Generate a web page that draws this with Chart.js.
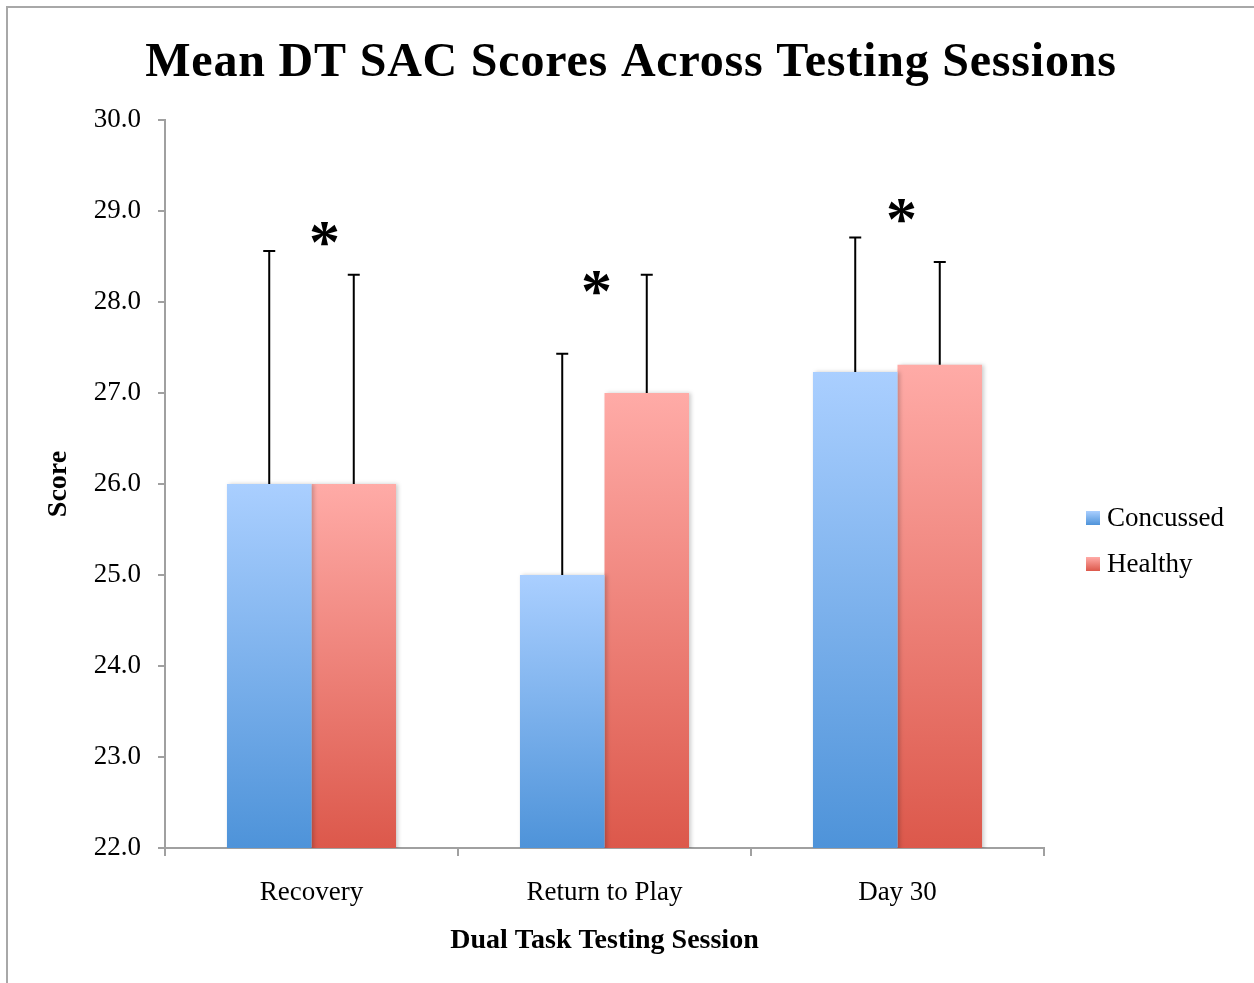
<!DOCTYPE html>
<html>
<head>
<meta charset="utf-8">
<script src="https://cdn.jsdelivr.net/npm/chart.js@4"></script>
<style>
    body { margin: 0; background: #fff; overflow: hidden; }
    #wrap { position: relative; width: 1254px; height: 983px; }
    #frame { position: absolute; left: 6px; top: 6px; width: 1300px; height: 1000px;
             border-left: 2px solid #a8a8a8; border-top: 2px solid #a8a8a8; }
    #myChart { position: absolute; left: 0; top: 0; }
</style>
</head>
<body>
<div id="wrap">
    <div id="frame"></div>
    <canvas id="myChart" width="1254" height="983"></canvas>
</div>
<script>
const chartTitle = 'Mean DT SAC Scores Across Testing Sessions';
const categories = ['Recovery', 'Return to Play', 'Day 30'];
const concussedMeans = [26.0, 25.0, 27.23];
const healthyMeans = [26.0, 27.0, 27.31];
const concussedErr = [2.56, 2.43, 1.48];
const healthyErr = [2.30, 1.30, 1.13];
const sigMarks = [28.75, 28.21, 29.0];
const yMin = 22, yMax = 30, yStep = 1;

const serif = '"Liberation Serif", "DejaVu Serif", serif';
const axisGrey = '#a0a0a0';

function barGradient(top, bottom) {
    return (context) => {
        const chart = context.chart;
        const yScale = chart.scales.y;
        if (!chart.chartArea || !yScale || context.parsed == null) return bottom;
        const yTop = yScale.getPixelForValue(context.parsed.y);
        const yBot = yScale.getPixelForValue(yMin);
        const g = chart.ctx.createLinearGradient(0, yTop, 0, yBot);
        g.addColorStop(0, top);
        g.addColorStop(1, bottom);
        return g;
    };
}

const barShadow = {
    id: 'barShadow',
    beforeDatasetDraw(chart) {
        const ctx = chart.ctx;
        ctx.save();
        ctx.shadowColor = 'rgba(0,0,0,0.2)';
        ctx.shadowBlur = 4;
        ctx.shadowOffsetX = 2;
        ctx.shadowOffsetY = 0;
    },
    afterDatasetDraw(chart) {
        chart.ctx.restore();
    }
};

const errorBars = {
    id: 'errorBars',
    afterDatasetsDraw(chart) {
        const ctx = chart.ctx;
        const yScale = chart.scales.y;
        ctx.save();
        ctx.strokeStyle = '#000';
        ctx.lineWidth = 2;
        chart.data.datasets.forEach((ds, i) => {
            const meta = chart.getDatasetMeta(i);
            meta.data.forEach((bar, j) => {
                const yTop = yScale.getPixelForValue(ds.data[j] + ds.errors[j]);
                ctx.beginPath();
                ctx.moveTo(bar.x, bar.y);
                ctx.lineTo(bar.x, yTop);
                ctx.moveTo(bar.x - 6, yTop);
                ctx.lineTo(bar.x + 6, yTop);
                ctx.stroke();
            });
        });
        // significance asterisks, nudged a little like in the original figure
        const starShift = [13, -8, 4];
        const xScale = chart.scales.x;
        ctx.fillStyle = '#000';
        ctx.font = 'bold 62px ' + serif;
        ctx.textAlign = 'center';
        ctx.textBaseline = 'alphabetic';
        const m = ctx.measureText('*');
        const mid = (m.actualBoundingBoxAscent - m.actualBoundingBoxDescent) / 2;
        sigMarks.forEach((v, j) => {
            ctx.fillText('*', xScale.getPixelForValue(j) + starShift[j], yScale.getPixelForValue(v) + mid);
        });
        ctx.restore();
    }
};

const titleAndLegend = {
    id: 'titleAndLegend',
    afterDraw(chart) {
        const ctx = chart.ctx;
        const area = chart.chartArea;
        ctx.save();
        // title, centred on the whole figure
        ctx.fillStyle = '#000';
        ctx.font = 'bold 48px ' + serif;
        ctx.letterSpacing = '0.8px';
        ctx.textAlign = 'center';
        ctx.textBaseline = 'alphabetic';
        ctx.fillText(chartTitle, chart.width / 2 + 4, 76);
        ctx.letterSpacing = '0px';

        // legend to the right of the plot
        const x = area.right + 42;
        const cy = (area.top + area.bottom) / 2;
        ctx.font = '27px ' + serif;
        ctx.textBaseline = 'middle';
        ctx.textAlign = 'left';
        chart.data.datasets.forEach((ds, i) => {
            const y = cy + 34 + i * 46;
            const g = ctx.createLinearGradient(0, y - 7, 0, y + 7);
            g.addColorStop(0, ds.topColor);
            g.addColorStop(1, ds.bottomColor);
            ctx.fillStyle = g;
            ctx.fillRect(x, y - 7, 14, 14);
            ctx.fillStyle = '#000';
            ctx.fillText(ds.label, x + 21, y + 1);
        });
        ctx.restore();
    }
};

const ctx = document.getElementById('myChart').getContext('2d');
new Chart(ctx, {
    type: 'bar',
    data: {
        labels: categories,
        datasets: [{
            label: 'Concussed',
            data: concussedMeans,
            errors: concussedErr,
            topColor: '#aacfff',
            bottomColor: '#4e93d9',
            backgroundColor: barGradient('#aacfff', '#4e93d9'),
            borderWidth: 0
        }, {
            label: 'Healthy',
            data: healthyMeans,
            errors: healthyErr,
            topColor: '#ffaba7',
            bottomColor: '#dc584b',
            backgroundColor: barGradient('#ffaba7', '#dc584b'),
            borderWidth: 0
        }]
    },
    options: {
        responsive: false,
        animation: false,
        datasets: {
            bar: { categoryPercentage: 0.577, barPercentage: 1.0 }
        },
        layout: { padding: { left: 30, right: 210, top: 120, bottom: 0 } },
        plugins: {
            legend: { display: false },
            tooltip: { enabled: false },
            title: { display: false }
        },
        scales: {
            x: {
                afterFit(scale) { scale.height = 135; },
                grid: {
                    display: true, drawOnChartArea: false, drawTicks: true,
                    tickLength: 8, color: axisGrey, lineWidth: 2
                },
                border: { color: axisGrey, width: 2 },
                ticks: { color: '#000', padding: 21, font: { family: serif, size: 27 } },
                title: {
                    display: true,
                    text: 'Dual Task Testing Session',
                    color: '#000',
                    font: { family: serif, size: 28, weight: 'bold' },
                    padding: { top: 4, bottom: 25 }
                }
            },
            y: {
                min: yMin,
                max: yMax,
                afterFit(scale) { scale.width = 135; },
                grid: {
                    display: true, drawOnChartArea: false, drawTicks: true,
                    tickLength: 7, color: axisGrey, lineWidth: 2
                },
                border: { color: axisGrey, width: 2 },
                ticks: {
                    stepSize: yStep,
                    color: '#000',
                    padding: 17,
                    font: { family: serif, size: 27 },
                    callback: (v) => Number(v).toFixed(1)
                },
                title: {
                    display: true,
                    text: 'Score',
                    color: '#000',
                    font: { family: serif, size: 28, weight: 'bold' },
                    padding: { top: 12, bottom: 0 }
                }
            }
        }
    },
    plugins: [barShadow, errorBars, titleAndLegend]
});
</script>
</body>
</html>
